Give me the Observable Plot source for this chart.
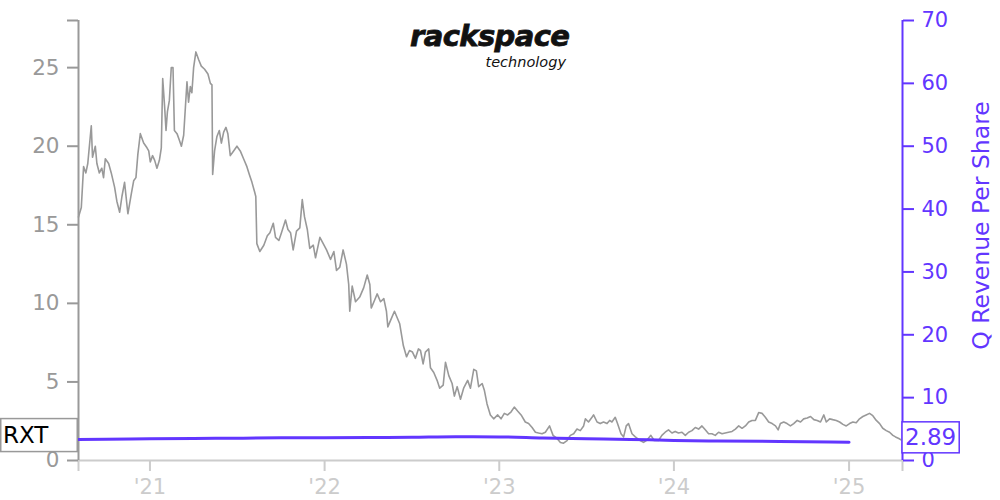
<!DOCTYPE html>
<html><head><meta charset="utf-8">
<script src="https://cdn.jsdelivr.net/npm/d3@7"></script>
<script src="https://cdn.jsdelivr.net/npm/@observablehq/plot@0.6"></script>
<style>
body{margin:0;background:#fff;}
#chart{position:relative;width:1000px;height:500px;}
</style></head><body><div id="chart"></div>
<script>
const ticker = "RXT";
const rightAxisLabel = "Q Revenue Per Share";
const logoMain = "rackspace";
const logoSub = "technology";
// [decimal year, price]
const rxtPrice = [
[2020.592,15.5],[2020.608,16.1],[2020.621,18.7],[2020.634,18.3],[2020.645,18.9],[2020.665,21.3],[2020.672,19.3],[2020.688,20.0],[2020.697,18.9],[2020.711,18.3],
[2020.725,18.6],[2020.735,18.0],[2020.745,19.2],[2020.764,18.9],[2020.779,18.3],[2020.798,17.4],[2020.811,16.5],[2020.827,15.8],[2020.840,16.8],[2020.855,17.7],
[2020.874,15.7],[2020.894,17.0],[2020.907,17.8],[2020.920,18.0],[2020.931,19.5],[2020.945,20.8],[2020.964,20.2],[2020.983,19.9],[2020.993,19.7],[2021.002,19.0],
[2021.015,19.4],[2021.027,19.1],[2021.040,18.6],[2021.054,19.1],[2021.065,19.9],[2021.073,24.3],[2021.084,22.5],[2021.092,21.0],[2021.100,22.2],[2021.111,22.9],
[2021.122,25.0],[2021.132,25.0],[2021.140,21.0],[2021.155,20.8],[2021.168,20.4],[2021.180,20.0],[2021.193,20.7],[2021.203,22.5],[2021.212,24.1],[2021.221,22.8],
[2021.231,23.8],[2021.240,23.4],[2021.250,25.0],[2021.263,26.0],[2021.279,25.5],[2021.294,25.1],[2021.313,24.9],[2021.332,24.6],[2021.346,24.0],[2021.355,23.9],
[2021.359,18.2],[2021.370,19.7],[2021.383,20.6],[2021.397,21.0],[2021.409,20.2],[2021.422,20.9],[2021.435,21.2],[2021.446,20.8],[2021.460,19.4],[2021.479,19.7],
[2021.498,20.0],[2021.517,19.7],[2021.536,19.2],[2021.555,18.7],[2021.569,18.2],[2021.584,17.7],[2021.599,17.1],[2021.606,16.8],[2021.612,13.8],
[2021.629,13.3],[2021.652,13.7],[2021.672,14.3],[2021.687,14.5],[2021.706,15.1],[2021.719,14.2],[2021.738,14.0],[2021.753,14.5],[2021.776,15.3],[2021.790,14.7],
[2021.805,14.5],[2021.820,13.4],[2021.839,14.6],[2021.858,14.8],[2021.872,16.6],[2021.885,15.5],[2021.901,14.7],[2021.915,13.5],[2021.935,13.7],[2021.948,12.9],
[2021.973,14.2],[2021.992,13.8],[2022.011,13.4],[2022.034,12.8],[2022.053,13.3],[2022.068,12.1],[2022.087,12.3],[2022.106,13.4],[2022.125,12.5],[2022.138,11.2],
[2022.144,9.5],[2022.158,11.1],[2022.177,10.1],[2022.201,10.4],[2022.224,11.0],[2022.244,11.8],[2022.259,11.2],[2022.267,9.7],[2022.286,10.2],[2022.301,10.6],
[2022.320,10.1],[2022.339,10.3],[2022.354,9.5],[2022.362,8.5],[2022.377,8.9],[2022.400,9.5],[2022.415,9.1],[2022.430,8.7],[2022.451,7.3],[2022.469,6.6],
[2022.486,7.0],[2022.503,6.9],[2022.520,6.5],[2022.537,7.1],[2022.549,7.0],[2022.564,6.15],[2022.577,6.9],[2022.596,7.1],[2022.606,5.9],[2022.625,5.6],
[2022.644,5.1],[2022.659,4.6],[2022.679,4.8],[2022.692,6.25],[2022.711,5.4],[2022.730,4.9],[2022.743,4.1],[2022.759,4.7],[2022.778,3.9],[2022.796,4.6],
[2022.819,5.1],[2022.835,4.6],[2022.854,5.8],[2022.869,5.7],[2022.882,4.7],[2022.902,4.9],[2022.915,4.45],[2022.930,3.6],[2022.949,2.9],[2022.968,2.65],
[2022.991,2.9],[2023.010,2.65],[2023.029,3.0],[2023.048,2.9],[2023.068,3.1],[2023.086,3.4],[2023.105,3.15],[2023.125,2.9],[2023.149,2.45],[2023.168,2.35],
[2023.188,2.1],[2023.207,1.8],[2023.225,1.75],[2023.245,1.7],[2023.264,1.8],[2023.288,2.2],[2023.308,1.6],[2023.331,1.4],[2023.350,1.15],[2023.368,1.1],
[2023.388,1.27],[2023.407,1.6],[2023.426,1.7],[2023.445,2.0],[2023.464,1.9],[2023.483,2.2],[2023.493,2.65],[2023.511,2.45],[2023.531,2.75],[2023.540,2.9],
[2023.560,2.45],[2023.578,2.35],[2023.597,2.45],[2023.617,2.35],[2023.632,2.55],[2023.645,2.45],[2023.664,2.75],[2023.677,2.35],[2023.697,1.7],[2023.712,1.5],
[2023.727,2.2],[2023.740,2.35],[2023.760,1.7],[2023.779,1.5],[2023.807,1.27],[2023.826,1.15],[2023.846,1.3],[2023.868,1.6],[2023.887,1.27],[2023.912,1.27],
[2023.931,1.6],[2023.950,1.8],[2023.969,1.95],[2023.989,1.75],[2024.007,1.85],[2024.026,1.75],[2024.046,1.8],[2024.065,1.6],[2024.084,1.8],[2024.103,1.9],
[2024.122,2.1],[2024.141,2.0],[2024.160,2.2],[2024.179,1.95],[2024.198,1.7],[2024.217,1.7],[2024.236,1.6],[2024.255,1.8],[2024.275,1.7],[2024.293,1.75],
[2024.312,1.8],[2024.332,1.85],[2024.351,2.0],[2024.370,2.2],[2024.389,2.05],[2024.408,2.2],[2024.427,2.45],[2024.446,2.55],[2024.465,2.55],[2024.484,3.05],
[2024.503,3.0],[2024.522,2.75],[2024.541,2.45],[2024.561,2.35],[2024.580,2.2],[2024.595,1.95],[2024.608,2.35],[2024.627,2.45],[2024.646,2.35],[2024.665,2.2],
[2024.684,2.35],[2024.704,2.55],[2024.723,2.45],[2024.741,2.65],[2024.761,2.7],[2024.780,2.8],[2024.799,2.6],[2024.818,2.55],[2024.837,2.45],[2024.856,2.9],
[2024.870,2.45],[2024.889,2.65],[2024.907,2.6],[2024.927,2.55],[2024.946,2.45],[2024.965,2.3],[2024.984,2.2],[2025.003,2.35],[2025.022,2.45],[2025.041,2.4],
[2025.060,2.65],[2025.079,2.8],[2025.098,2.9],[2025.117,3.0],[2025.136,2.85],[2025.156,2.55],[2025.175,2.35],[2025.193,2.05],[2025.213,1.9],[2025.232,1.8],
[2025.251,1.6],[2025.266,1.5],[2025.285,1.4],[2025.300,1.3]
];
// [decimal year, quarterly revenue per share]
const revenuePerShare = [
[2020.5,3.3],[2020.75,3.4],[2021.0,3.45],[2021.25,3.5],[2021.5,3.55],[2021.75,3.6],[2022.0,3.62],[2022.25,3.65],[2022.5,3.7],
[2022.75,3.78],[2023.0,3.75],[2023.25,3.58],[2023.5,3.45],[2023.75,3.35],[2024.0,3.2],[2024.25,3.1],[2024.5,3.05],[2024.75,2.98],[2025.0,2.89]
];
const lastRevenueLabel = "2.89";
const leftTicks = [0,5,10,15,20,25];
const rightTicks = [0,10,20,30,40,50,60,70];
const yearTicks = [2021,2022,2023,2024,2025];
const xDomainYears = [2020.592, 2025.306];
const leftMax = 28, rightMax = 70;

const purple = "#6236ff";
const grayLine = "#999";
const font = "DejaVu Sans";

function toDate(yr){ const y=Math.floor(yr); const s=Date.UTC(y,0,1), e=Date.UTC(y+1,0,1); return new Date(s+(yr-y)*(e-s)); }
const k = leftMax/rightMax;
const xDomain = xDomainYears.map(toDate);
const price = rxtPrice.map(([t,v])=>({date:toDate(t), value:v}));
const rev = revenuePerShare.map(([t,v])=>({date:toDate(t), value:v}));
const yearDates = yearTicks.map(y=>toDate(y));
const yearSet = new Map(yearDates.map((d,i)=>[+d, "'" + String(yearTicks[i]).slice(2)]));

const chart = Plot.plot({
  width:1000, height:500, marginLeft:78, marginRight:98, marginTop:20, marginBottom:40,
  style:{fontFamily:font, background:"white"},
  x:{type:"utc", domain:xDomain},
  y:{domain:[0,leftMax]},
  marks:[
    Plot.ruleY([0], {stroke:"#ccc", strokeWidth:2}),
    Plot.axisX([...yearDates, ...xDomain], {tickSize:11, tickPadding:8, fontSize:21, color:"#ccc", stroke:"#ccc", fill:"#ccc", strokeWidth:2, tickFormat:d=>yearSet.get(+d) ?? "", label:null}),
    Plot.axisY([...leftTicks, leftMax], {anchor:"left", tickSize:11, tickPadding:8, fontSize:21.5, color:"#999", stroke:"#999", fill:"#999", strokeWidth:2, tickFormat:d=> d===leftMax ? "" : String(d), label:null}),
    Plot.ruleX([xDomain[0]], {stroke:"#999", strokeWidth:2}),
    Plot.axisY(rightTicks.map(v=>v*k), {anchor:"right", tickSize:11, tickPadding:8, fontSize:21, color:purple, stroke:purple, fill:purple, strokeWidth:2, tickFormat:d=>String(Math.round(d/k)), label:null}),
    Plot.ruleX([xDomain[1]], {stroke:purple, strokeWidth:2}),
    Plot.text([rightAxisLabel], {text:d=>d, frameAnchor:"right", textAnchor:"middle", rotate:-90, dx:79, dy:-15, fill:purple, fontSize:23.5}),
    Plot.line(price, {x:"date", y:"value", stroke:grayLine, strokeWidth:1.6}),
    Plot.line(rev, {x:"date", y:d=>d.value*k, stroke:purple, strokeWidth:3, curve:"monotone-x", clip:true})
  ]
});
document.getElementById("chart").appendChild(chart);

const svg = d3.select(chart);
const ys = chart.scale("y");
// ticker box at last price
const lastPrice = rxtPrice[rxtPrice.length-1][1];
const cyL = ys.apply(lastPrice) - 4.5;
const gL = svg.append("g").attr("font-family",font).attr("font-size",23).attr("text-anchor","start");
gL.append("rect").attr("x",0.75).attr("y",cyL-16.5).attr("width",76.5).attr("height",33)
  .attr("fill","white").attr("stroke","#999").attr("stroke-width",1.5);
gL.append("text").attr("x",3).attr("y",cyL+8.2).attr("fill","black").text(ticker);
// last revenue box
const lastRev = revenuePerShare[revenuePerShare.length-1][1];
const cyR = ys.apply(lastRev*k) - 4.5;
const gR = svg.append("g").attr("font-family",font).attr("font-size",23).attr("text-anchor","start");
const rR = gR.append("rect").attr("x",902).attr("y",cyR-15.5).attr("height",31)
  .attr("fill","white").attr("stroke",purple).attr("stroke-width",1.5);
const tR = gR.append("text").attr("x",905).attr("y",cyR+7.8).attr("fill",purple).text(lastRevenueLabel);
rR.attr("width", tR.node().getComputedTextLength() + 6);
// logo
const gLogo = svg.append("g").attr("font-family",font).attr("fill","#111");
gLogo.append("text").attr("x",410).attr("y",45.5).attr("text-anchor","start").attr("font-size",29)
  .attr("font-weight","bold").attr("font-style","italic").attr("letter-spacing",-0.6)
  .attr("stroke","#111").attr("stroke-width",0.8).text(logoMain);
gLogo.append("text").attr("x",566).attr("y",67).attr("text-anchor","end").attr("font-size",14.5)
  .attr("font-style","italic").text(logoSub);
</script></body></html>
